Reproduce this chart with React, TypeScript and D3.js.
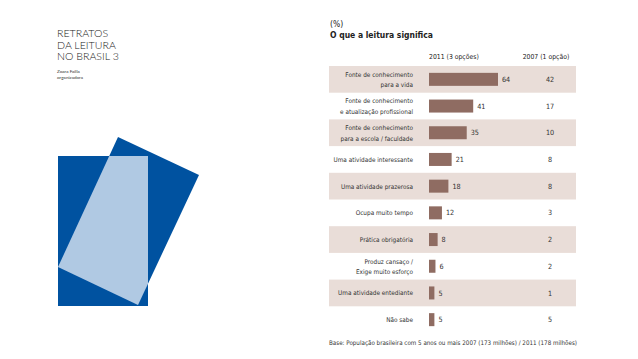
import { useMemo } from "react";
import * as d3 from "d3";

const categories = [
  "Fonte de conhecimento\npara a vida",
  "Fonte de conhecimento\ne atualização profissional",
  "Fonte de conhecimento\npara a escola / faculdade",
  "Uma atividade interessante",
  "Uma atividade prazerosa",
  "Ocupa muito tempo",
  "Prática obrigatória",
  "Produz cansaço /\nExige muito esforço",
  "Uma atividade entediante",
  "Não sabe",
];
const values2011 = [64, 41, 35, 21, 18, 12, 8, 6, 5, 5];
const values2007 = [42, 17, 10, 8, 8, 3, 2, 2, 1, 5];
const titleLines = ["RETRATOS", "DA LEITURA", "NO BRASIL 3"];
const authorLines = ["Zoara Failla", "organizadora"];

const W = 638;
const H = 359;
const font = "'DejaVu Sans Condensed', 'Liberation Sans Narrow', 'Roboto', sans-serif";

export default function App() {
  const y = useMemo(
    () => d3.scaleBand<string>().domain(categories).range([66, 333]).padding(0),
    []
  );
  const x = useMemo(() => d3.scaleLinear().domain([0, 100]).range([429, 536.8]), []);

  const rowLeft = 329;
  const rowRight = 576;
  const col2007 = 550;

  // logo geometry
  const rectBox = { x: 58, y: 156, w: 90, h: 150 };
  const tilted = [
    [118, 137],
    [199, 175],
    [138, 305],
    [58, 267],
  ];
  const poly = tilted.map((p) => p.join(",")).join(" ");

  return (
    <svg
      width={W}
      height={H}
      style={{ position: "absolute", left: 0, top: 0, background: "#fff" }}
    >
      <defs>
        <clipPath id="rectClip">
          <rect x={rectBox.x} y={rectBox.y} width={rectBox.w} height={rectBox.h} />
        </clipPath>
      </defs>

      {/* cover text */}
      <g fontFamily="'Lato', 'Open Sans', sans-serif" fill="#222">
        {titleLines.map((t, i) => (
          <text key={t} x={57} y={37.3 + i * 11.2} fontSize={10.6} fontWeight={300}>
            {t}
          </text>
        ))}
        {authorLines.map((t, i) => (
          <text key={t} x={57} y={72.5 + i * 6} fontSize={4.6} fill="#333">
            {t}
          </text>
        ))}
      </g>

      {/* logo */}
      <rect x={rectBox.x} y={rectBox.y} width={rectBox.w} height={rectBox.h} fill="#0052a0" />
      <polygon points={poly} fill="#0052a0" />
      <polygon points={poly} fill="#b0c9e3" clipPath="url(#rectClip)" />

      {/* chart */}
      <g fontFamily={font} fill="#222">
        <text x={330} y={26.5} fontSize={8.5}>
          (%)
        </text>
        <text x={330} y={37.8} fontSize={8.5} fontWeight="bold">
          O que a leitura significa
        </text>
        <text x={429} y={58.5} fontSize={6.8}>
          2011 (3 opções)
        </text>
        <text x={546} y={58.5} fontSize={6.8} textAnchor="middle">
          2007 (1 opção)
        </text>

        {categories.map((c, i) => {
          const top = y(c)!;
          const bh = y.bandwidth();
          const cy = top + bh / 2;
          const lines = c.split("\n");
          return (
            <g key={c}>
              {i % 2 === 0 && (
                <rect x={rowLeft} y={top} width={rowRight - rowLeft} height={bh} fill="#e9ddd8" />
              )}
              {lines.map((l, j) => (
                <text
                  key={l}
                  x={413}
                  y={cy + 2.5 + (j - (lines.length - 1) / 2) * 10.5}
                  fontSize={6.4}
                  textAnchor="end"
                  fill="#333"
                >
                  {l}
                </text>
              ))}
              <rect
                x={x(0)}
                y={cy - 6.5}
                width={x(values2011[i]) - x(0)}
                height={13}
                fill="#8f6c62"
              />
              <text x={x(values2011[i]) + 4} y={cy + 2.6} fontSize={7.2} fill="#333">
                {values2011[i]}
              </text>
              <text x={col2007} y={cy + 2.6} fontSize={7.2} textAnchor="middle" fill="#333">
                {values2007[i]}
              </text>
            </g>
          );
        })}

        <text x={329} y={344.5} fontSize={6.3} fill="#333" textLength={248} lengthAdjust="spacingAndGlyphs">
          Base: População brasileira com 5 anos ou mais 2007 (173 milhões) / 2011 (178 milhões)
        </text>
      </g>
    </svg>
  );
}
